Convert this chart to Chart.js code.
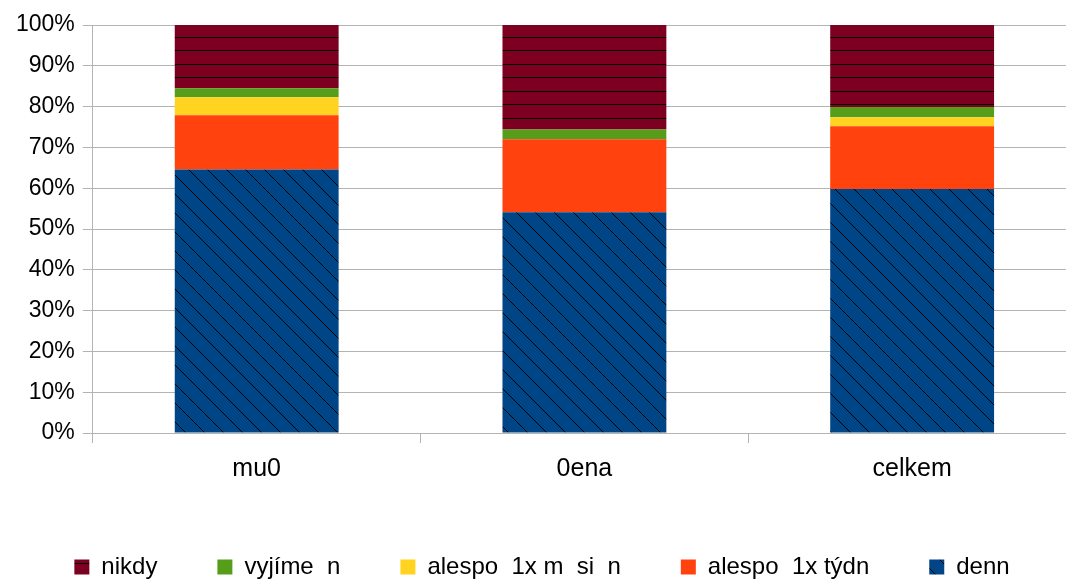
<!DOCTYPE html>
<html>
<head>
<meta charset="utf-8">
<script src="https://cdn.jsdelivr.net/npm/chart.js@4/dist/chart.umd.min.js"></script>
<style>
  body { margin: 0; overflow: hidden; background: #fff; }
  #wrap { width: 1078px; height: 589px; }
</style>
</head>
<body>
<div id="wrap"><canvas id="chart" width="1078" height="589"></canvas></div>
<script>
// categories (x axis) - labels kept as they appear in the picture
const categories = ['mu0', '0ena', 'celkem'];

// series values in percent, bottom to top
const denn = [64.6, 54.1, 59.8];
const tyden = [13.3, 17.9, 15.4];
const mesic = [4.4, 0, 2.2];
const vyjimecne = [2.2, 2.4, 2.5];
const nikdy = [15.5, 25.6, 20.1];

// y tick values
const yTicks = [0, 10, 20, 30, 40, 50, 60, 70, 80, 90, 100];

const ctx = document.getElementById('chart').getContext('2d');

// horizontal hatch for "nikdy"
function hatchHorizontal(color) {
  const c = document.createElement('canvas');
  c.width = 27; c.height = 27;
  const g = c.getContext('2d');
  g.fillStyle = color;
  g.fillRect(0, 0, 27, 27);
  g.fillStyle = '#000';
  g.fillRect(0, 10, 27, 1);
  g.fillRect(0, 23, 27, 1);
  return ctx.createPattern(c, 'repeat');
}

// diagonal hatch for "denn"
function hatchDiagonal(color) {
  const s = 19;
  const c = document.createElement('canvas');
  c.width = s; c.height = s;
  const g = c.getContext('2d');
  g.fillStyle = color;
  g.fillRect(0, 0, s, s);
  g.strokeStyle = '#000';
  g.lineWidth = 1;
  g.beginPath();
  g.moveTo(-1, -1); g.lineTo(s + 1, s + 1);
  g.moveTo(s - 1, -1); g.lineTo(s + 1, 1);
  g.moveTo(-1, s - 1); g.lineTo(1, s + 1);
  g.stroke();
  return ctx.createPattern(c, 'repeat');
}

const family = 'Liberation Sans, Arial, sans-serif';

new Chart(ctx, {
  type: 'bar',
  data: {
    labels: categories,
    datasets: [
      { label: 'denn', data: denn, backgroundColor: hatchDiagonal('#004586') },
      { label: 'alespo  1x týdn', data: tyden, backgroundColor: '#ff420e' },
      { label: 'alespo  1x m  si  n', data: mesic, backgroundColor: '#ffd320' },
      { label: 'vyjíme  n', data: vyjimecne, backgroundColor: '#579d1c' },
      { label: 'nikdy', data: nikdy, backgroundColor: hatchHorizontal('#7e0021') }
    ]
  },
  options: {
    responsive: false,
    animation: false,
    layout: { padding: { left: 8, right: 2, top: 25, bottom: 0 } },
    datasets: { bar: { barPercentage: 1, categoryPercentage: 0.5, borderWidth: 0 } },
    scales: {
      x: {
        stacked: true,
        grid: { offset: true, drawOnChartArea: false, drawTicks: true, tickLength: 10, color: '#b3b3b3' },
        border: { color: '#b3b3b3' },
        ticks: { color: '#000', font: { family: family, size: 25 }, padding: 11 }
      },
      y: {
        stacked: true,
        min: 0, max: 100,
        afterBuildTicks: (axis) => { axis.ticks = yTicks.map(v => ({ value: v })); },
        grid: { color: '#b3b3b3', tickLength: 10 },
        border: { color: '#b3b3b3' },
        ticks: { color: '#000', font: { family: family, size: 23 }, padding: 8, callback: v => v + '%' }
      }
    },
    plugins: {
      tooltip: { enabled: false },
      legend: {
        position: 'bottom',
        reverse: true,
        labels: { color: '#000', font: { family: family, size: 24 }, boxWidth: 15, boxHeight: 15, padding: 60 }
      }
    }
  }
});
</script>
</body>
</html>
